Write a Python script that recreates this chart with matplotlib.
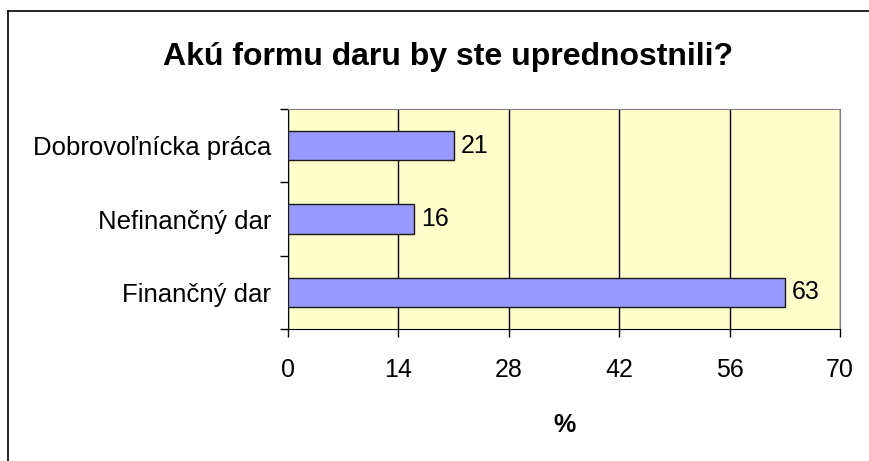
import matplotlib.pyplot as plt
from matplotlib.lines import Line2D
import numpy as np

plt.rcParams['font.family'] = ['Liberation Sans', 'DejaVu Sans']

categories = ['Finančný dar', 'Nefinančný dar', 'Dobrovoľnícka práca']
values = [63, 16, 21]
xticks = [0, 14, 28, 42, 56, 70]

fig = plt.figure(figsize=(8.69, 4.61), dpi=100)
ax = fig.add_axes([288 / 869, 1 - 329 / 461, (840 - 288) / 869, (329 - 109) / 461])

ax.set_facecolor('#FFFFCC')
pos = np.arange(len(categories))
ax.barh(pos, values, height=0.4, color='#9999FF', edgecolor='#1a1a1a', linewidth=1, zorder=3)
for p, v in zip(pos, values):
    ax.text(v + 0.9, p, str(v), va='center', ha='left', fontsize=18, zorder=4)

ax.set_xlim(0, 70)
ax.set_ylim(-0.5, len(categories) - 0.5)
ax.set_xticks(xticks)
ax.set_xticklabels([str(t) for t in xticks], fontsize=18)
ax.xaxis.grid(True, color='black', linewidth=1)
ax.set_axisbelow(True)

# category labels between boundary ticks
ax.set_yticks(np.arange(-0.5, len(categories)), minor=False)
ax.set_yticklabels([])
ax.set_yticks(pos, minor=True)
ax.set_yticklabels(categories, minor=True, fontsize=18.5)
ax.tick_params(axis='y', which='minor', length=0, pad=12)
ax.tick_params(axis='y', which='major', length=6, direction='out', width=1)
ax.tick_params(axis='x', length=6, direction='out', width=1, pad=15)

ax.spines['left'].set_color('black')
ax.spines['bottom'].set_color('black')
ax.spines['top'].set_color('#808080')
ax.spines['right'].set_color('#808080')

ax.set_xlabel('%', fontsize=18, fontweight='bold', labelpad=22)
fig.text(448 / 869, 1 - 57 / 461, 'Akú formu daru by ste uprednostnili?',
         ha='center', va='center', fontsize=23, fontweight='bold')

# outer chart border (cut at right and bottom)
fig.add_artist(Line2D([8 / 869, 8 / 869], [0, 1 - 11 / 461], color='black', linewidth=1.2))
fig.add_artist(Line2D([8 / 869, 1], [1 - 11 / 461, 1 - 11 / 461], color='black', linewidth=1.2))

fig.savefig('out.png', dpi=100)
